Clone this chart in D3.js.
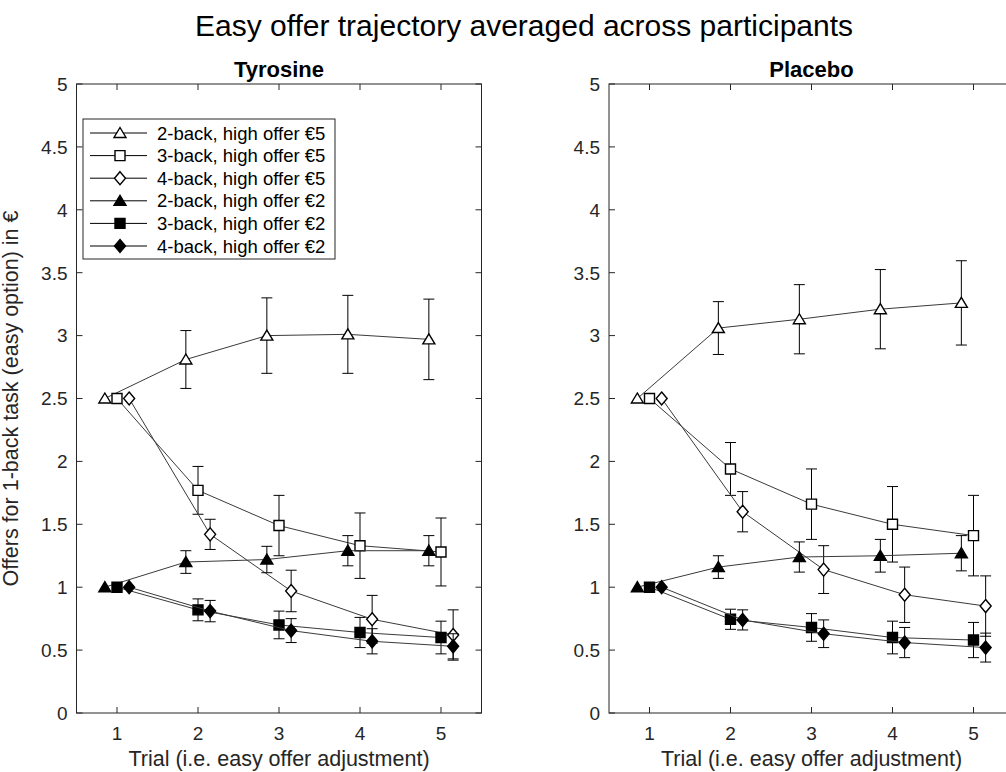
<!DOCTYPE html>
<html>
<head>
<meta charset="utf-8">
<script src="https://cdn.jsdelivr.net/npm/d3@7"></script>
<style>
  body { margin: 0; background: #fff; }
  svg text { font-family: "Liberation Sans", Arial, Helvetica, sans-serif; }
</style>
</head>
<body>
<div id="chart"></div>
<script>
// data
const trials = [1, 2, 3, 4, 5];
const yTicks = [0, 0.5, 1, 1.5, 2, 2.5, 3, 3.5, 4, 4.5, 5];

const seriesLabels = [
  '2-back, high offer €5',
  '3-back, high offer €5',
  '4-back, high offer €5',
  '2-back, high offer €2',
  '3-back, high offer €2',
  '4-back, high offer €2'
];

// mean offer per trial, one row per series (same order as seriesLabels)
const tyrosineMean = [
  [2.5, 2.81, 3.00, 3.01, 2.97],
  [2.5, 1.77, 1.49, 1.33, 1.28],
  [2.5, 1.42, 0.97, 0.745, 0.62],
  [1.0, 1.20, 1.22, 1.29, 1.29],
  [1.0, 0.82, 0.70, 0.64, 0.60],
  [1.0, 0.81, 0.655, 0.57, 0.53]
];
const tyrosineErr = [
  [0, 0.23, 0.30, 0.31, 0.32],
  [0, 0.19, 0.24, 0.26, 0.27],
  [0, 0.12, 0.165, 0.19, 0.20],
  [0, 0.09, 0.105, 0.12, 0.12],
  [0, 0.087, 0.11, 0.12, 0.13],
  [0, 0.085, 0.095, 0.10, 0.10]
];
const placeboMean = [
  [2.5, 3.06, 3.13, 3.21, 3.26],
  [2.5, 1.94, 1.66, 1.50, 1.41],
  [2.5, 1.60, 1.14, 0.94, 0.85],
  [1.0, 1.16, 1.24, 1.25, 1.27],
  [1.0, 0.745, 0.68, 0.60, 0.58],
  [1.0, 0.74, 0.63, 0.56, 0.52]
];
const placeboErr = [
  [0, 0.21, 0.275, 0.315, 0.335],
  [0, 0.21, 0.28, 0.30, 0.32],
  [0, 0.16, 0.19, 0.22, 0.24],
  [0, 0.09, 0.12, 0.13, 0.14],
  [0, 0.08, 0.11, 0.13, 0.14],
  [0, 0.08, 0.11, 0.12, 0.115]
];

// marker look + horizontal jitter per series
const seriesStyle = [
  {shape: 'tri', fill: '#fff', dx: -0.15},
  {shape: 'sq', fill: '#fff', dx: 0},
  {shape: 'dia', fill: '#fff', dx: 0.15},
  {shape: 'tri', fill: '#000', dx: -0.15},
  {shape: 'sq', fill: '#000', dx: 0},
  {shape: 'dia', fill: '#000', dx: 0.15}
];

const width = 1006;
const height = 772;
const axisColor = '#262626';
const lineColor = '#3a3a3a';

const svg = d3.select('#chart')
  .append('svg')
  .attr('width', width)
  .attr('height', height);

const y = d3.scaleLinear().domain([0, 5]).range([713, 84]);

function markerPath(shape) {
  if (shape === 'tri') return 'M0,-5.5L6,4.5L-6,4.5Z';
  if (shape === 'sq') return 'M-5,-5H5V5H-5Z';
  return 'M0,-6.5L5.5,0L0,6.5L-5.5,0Z';
}

function drawMarker(g, cx, cy, style) {
  g.append('path')
    .attr('d', markerPath(style.shape))
    .attr('transform', `translate(${cx},${cy})`)
    .attr('fill', style.fill)
    .attr('stroke', '#000')
    .attr('stroke-width', 1.4)
    .attr('stroke-linejoin', 'miter');
}

function drawPanel(x0, x1, title, means, errs, opts) {
  const x = d3.scaleLinear().domain([0.5, 5.5]).range([x0, x1]);
  const g = svg.append('g');
  const tickLen = 6;

  // axes box
  g.append('rect')
    .attr('x', x0).attr('y', y(5))
    .attr('width', x1 - x0).attr('height', y(0) - y(5))
    .attr('fill', 'none').attr('stroke', axisColor).attr('stroke-width', 1);

  // x ticks (bottom + top, pointing in)
  trials.forEach(t => {
    g.append('line').attr('x1', x(t)).attr('x2', x(t))
      .attr('y1', y(0)).attr('y2', y(0) - tickLen)
      .attr('stroke', axisColor);
    g.append('line').attr('x1', x(t)).attr('x2', x(t))
      .attr('y1', y(5)).attr('y2', y(5) + tickLen)
      .attr('stroke', axisColor);
    g.append('text').attr('x', x(t)).attr('y', 740)
      .attr('text-anchor', 'middle').attr('font-size', 19)
      .attr('fill', axisColor).text(t);
  });

  // y ticks (left + right, pointing in)
  yTicks.forEach(v => {
    g.append('line').attr('x1', x0).attr('x2', x0 + tickLen)
      .attr('y1', y(v)).attr('y2', y(v)).attr('stroke', axisColor);
    g.append('line').attr('x1', x1).attr('x2', x1 - tickLen)
      .attr('y1', y(v)).attr('y2', y(v)).attr('stroke', axisColor);
    g.append('text').attr('x', x0 - 9).attr('y', y(v))
      .attr('dy', '0.36em')
      .attr('text-anchor', 'end').attr('font-size', 19)
      .attr('fill', axisColor).text(String(v));
  });

  // subplot title
  g.append('text').attr('x', (x0 + x1) / 2).attr('y', 77)
    .attr('text-anchor', 'middle').attr('font-size', 22)
    .attr('font-weight', 'bold').attr('fill', '#000').text(title);

  // x label
  g.append('text').attr('x', (x0 + x1) / 2).attr('y', 766)
    .attr('text-anchor', 'middle').attr('font-size', 21.5)
    .attr('fill', axisColor).text('Trial (i.e. easy offer adjustment)');

  if (opts.yLabel) {
    g.append('text')
      .attr('transform', `translate(18,${(y(0) + y(5)) / 2}) rotate(-90)`)
      .attr('text-anchor', 'middle').attr('font-size', 21.5)
      .attr('fill', axisColor).text(opts.yLabel);
  }

  // series: line, error bars, markers
  const line = d3.line().x(d => x(d.t)).y(d => y(d.m));
  means.forEach((row, si) => {
    const st = seriesStyle[si];
    const pts = row.map((m, i) => ({t: trials[i] + st.dx, m: m, e: errs[si][i]}));
    const sg = g.append('g');
    sg.append('path').attr('d', line(pts))
      .attr('fill', 'none').attr('stroke', lineColor).attr('stroke-width', 1);
    pts.filter(p => p.e > 0).forEach(p => {
      const cx = x(p.t);
      const cap = 5.5;
      sg.append('line').attr('x1', cx).attr('x2', cx)
        .attr('y1', y(p.m - p.e)).attr('y2', y(p.m + p.e))
        .attr('stroke', '#000').attr('stroke-width', 1);
      [p.m - p.e, p.m + p.e].forEach(v => {
        sg.append('line').attr('x1', cx - cap).attr('x2', cx + cap)
          .attr('y1', y(v)).attr('y2', y(v))
          .attr('stroke', '#000').attr('stroke-width', 1);
      });
    });
    pts.forEach(p => drawMarker(sg, x(p.t), y(p.m), st));
  });

  if (opts.legend) {
    const lx = x0 + 6.5;
    const ly = y(5) + 35;
    const lg = g.append('g');
    lg.append('rect').attr('x', lx).attr('y', ly)
      .attr('width', 252).attr('height', 140)
      .attr('fill', '#fff').attr('stroke', axisColor).attr('stroke-width', 1);
    seriesLabels.forEach((lab, i) => {
      const ry = ly + 14 + i * 22.6;
      lg.append('line').attr('x1', lx + 7).attr('x2', lx + 64)
        .attr('y1', ry).attr('y2', ry)
        .attr('stroke', '#000').attr('stroke-width', 1);
      drawMarker(lg, lx + 37, ry, seriesStyle[i]);
      lg.append('text').attr('x', lx + 74).attr('y', ry).attr('dy', '0.36em')
        .attr('font-size', 18.5).attr('fill', '#000').text(lab);
    });
  }
}

drawPanel(76.5, 481.5, 'Tyrosine', tyrosineMean, tyrosineErr,
  {legend: true, yLabel: 'Offers for 1-back task (easy option) in €'});
drawPanel(609, 1014, 'Placebo', placeboMean, placeboErr, {legend: false});

svg.append('text').attr('x', 524).attr('y', 36)
  .attr('text-anchor', 'middle').attr('font-size', 30)
  .attr('fill', '#000').text('Easy offer trajectory averaged across participants');
</script>
</body>
</html>
